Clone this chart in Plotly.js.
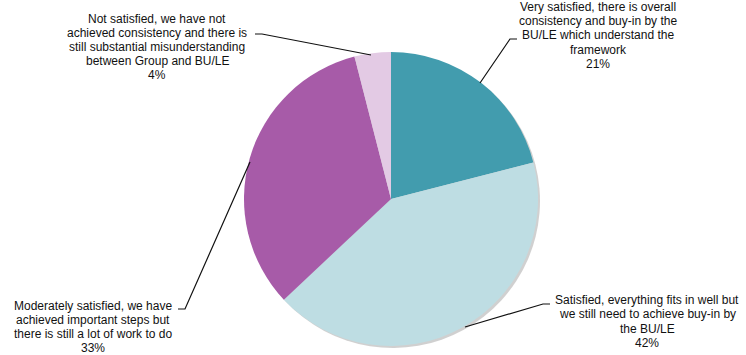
<!DOCTYPE html>
<html>
<head>
<meta charset="utf-8">
<script src="https://cdn.plot.ly/plotly-3.0.1.min.js"></script>
<style>html,body{margin:0;padding:0;background:#fff;}#chart{width:746px;height:355px;}</style>
</head>
<body>
<div id="chart"></div>
<script>
// Data
var categories = [
  "Very satisfied, there is overall<br>consistency and buy-in by the<br>BU/LE which understand the<br>framework",
  "Satisfied, everything fits in well but<br>we still need to achieve buy-in by<br>the BU/LE",
  "Moderately satisfied, we have<br>achieved important steps but<br>there is still a lot of work to do",
  "Not satisfied, we have not<br>achieved consistency and there is<br>still substantial misunderstanding<br>between Group and BU/LE"
];
var values = [21, 42, 33, 4];
var colors = ["#429CAE", "#BEDDE3", "#A75BA8", "#E3CAE4"];

var W = 746, H = 355;
function px(x){ return x / W; }
function py(y){ return 1 - y / H; }

// pie geometry (pixels)
var cx = 391, cy = 199, r = 147;
var dom = {x:[px(cx - r), px(cx + r)], y:[py(cy + r), py(cy - r)]};
var sdom = {x:[px(cx - r + 2), px(cx + r + 2)], y:[py(cy + r + 2), py(cy - r + 2)]};

var shadow = {
  type: 'pie', values: values, sort: false, direction: 'clockwise', rotation: 0,
  marker: {colors: values.map(function(){return 'rgba(120,120,120,0.35)';}), line:{width:0}},
  textinfo: 'none', hoverinfo: 'skip', showlegend: false, domain: sdom
};
var pie = {
  type: 'pie', labels: categories, values: values, sort: false, direction: 'clockwise', rotation: 0,
  marker: {colors: colors, line:{width:0}},
  textinfo: 'none', showlegend: false, domain: dom
};

// label placement (pixels): text center, leader polyline
var labelPos = [
  {x:598, y:35.5, line:[[517,39],[510,39],[480,83]]},
  {x:647, y:321.5, line:[[550,304],[543,304],[465,327]]},
  {x:93,  y:327, line:[[178,309],[185,309],[250,162]]},
  {x:157, y:47,  line:[[255,34],[262,34],[371,55]]}
];
var lineGap = 14.2;

var annotations = [], shapes = [];
categories.forEach(function(c, i){
  var p = labelPos[i];
  var lines = c.split('<br>').concat([values[i] + '%']);
  var n = lines.length;
  lines.forEach(function(t, k){
    annotations.push({
      xref:'paper', yref:'paper', x:px(p.x), y:py(p.y + (k - (n - 1) / 2) * lineGap),
      xanchor:'center', yanchor:'middle', borderpad:0,
      text: t, showarrow:false, align:'center',
      font:{family:'Liberation Sans, Arial, sans-serif', size:12, color:'#111'}
    });
  });
  var path = p.line.map(function(pt, k){ return (k ? 'L' : 'M') + px(pt[0]) + ',' + py(pt[1]); }).join(' ');
  shapes.push({type:'path', xref:'paper', yref:'paper', path:path, line:{color:'#111', width:1.2}});
});

var layout = {
  width: W, height: H, margin:{l:0, r:0, t:0, b:0},
  paper_bgcolor:'#fff', plot_bgcolor:'#fff', showlegend:false,
  annotations: annotations, shapes: shapes
};
Plotly.newPlot('chart', [shadow, pie], layout, {displayModeBar:false, staticPlot:true});
</script>
</body>
</html>
